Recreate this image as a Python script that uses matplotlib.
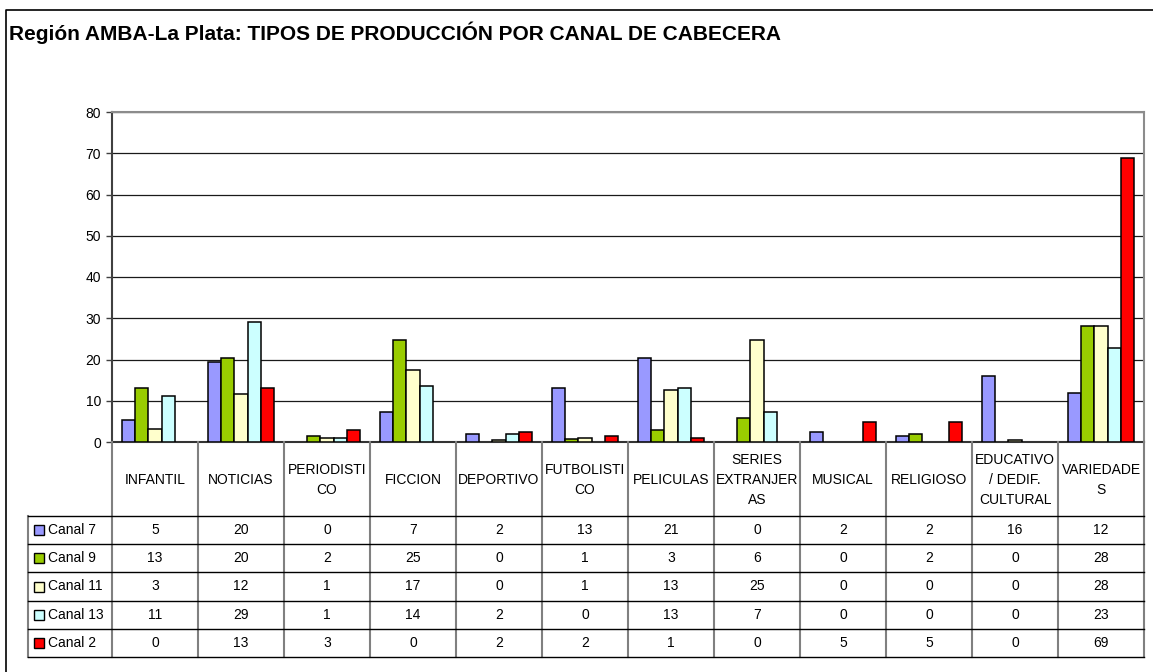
import matplotlib
matplotlib.use("Agg")
import matplotlib.pyplot as plt
import numpy as np

plt.rcParams['font.family'] = ['Liberation Sans', 'DejaVu Sans']

W, H = 1153, 672

# Data
categories = ["INFANTIL", "NOTICIAS", "PERIODISTI\nCO", "FICCION", "DEPORTIVO",
              "FUTBOLISTI\nCO", "PELICULAS", "SERIES\nEXTRANJER\nAS", "MUSICAL",
              "RELIGIOSO", "EDUCATIVO\n/ DEDIF.\nCULTURAL", "VARIEDADE\nS"]
channels = ["Canal 7", "Canal 9", "Canal 11", "Canal 13", "Canal 2"]
colors = ["#9999FF", "#99CC00", "#FFFFCC", "#CCFFFF", "#FF0000"]

# bar heights as drawn
canal7 = [5.3, 19.3, 0, 7.2, 1.9, 13.0, 20.3, 0, 2.4, 1.4, 15.9, 12.0]
canal9 = [13.0, 20.3, 1.4, 24.7, 0, 0.8, 2.8, 5.7, 0, 1.9, 0, 28.1]
canal11 = [3.2, 11.6, 0.9, 17.4, 0.4, 1.0, 12.5, 24.8, 0, 0, 0.4, 28.1]
canal13 = [11.1, 29.1, 0.9, 13.5, 1.9, 0, 13.1, 7.2, 0, 0, 0, 22.7]
canal2 = [0, 13.0, 2.8, 0, 2.4, 1.5, 1.0, 0, 4.8, 4.8, 0, 68.9]

# values printed in the data table
tab7 = [5, 20, 0, 7, 2, 13, 21, 0, 2, 2, 16, 12]
tab9 = [13, 20, 2, 25, 0, 1, 3, 6, 0, 2, 0, 28]
tab11 = [3, 12, 1, 17, 0, 1, 13, 25, 0, 0, 0, 28]
tab13 = [11, 29, 1, 14, 2, 0, 13, 7, 0, 0, 0, 23]
tab2 = [0, 13, 3, 0, 2, 2, 1, 0, 5, 5, 0, 69]

series = [canal7, canal9, canal11, canal13, canal2]
table = [tab7, tab9, tab11, tab13, tab2]

fig = plt.figure(figsize=(W / 100, H / 100), dpi=100)

# plot area in pixels
px_left, px_right, px_top, px_bottom = 112, 1144, 112, 442
ax = fig.add_axes([px_left / W, 1 - px_bottom / H,
                   (px_right - px_left) / W, (px_bottom - px_top) / H])

n = len(categories)
x = np.arange(n) + 0.5
bw = 0.154
for j, (vals, col, name) in enumerate(zip(series, colors, channels)):
    bars = ax.bar(x + (j - 2) * bw, vals, width=bw, color=col,
                  edgecolor="black", linewidth=1.1, zorder=3, label=name)
    # empty bars are not drawn
    for b, v in zip(bars, vals):
        if v == 0:
            b.set_visible(False)

ax.set_xlim(0, n)
ax.set_ylim(0, 80)
ax.set_yticks(range(0, 81, 10))
ax.yaxis.grid(True, color="#1a1a1a", linewidth=0.9, zorder=0)
ax.set_xticks([])
ax.tick_params(axis="y", length=4, width=1, color="#404040",
               labelsize=10, pad=4)
ax.spines["top"].set_color("#8c8c8c")
ax.spines["top"].set_linewidth(1.5)
ax.spines["right"].set_color("#8c8c8c")
ax.spines["right"].set_linewidth(1.5)
ax.spines["left"].set_color("#404040")
ax.spines["left"].set_linewidth(1.5)
ax.spines["bottom"].set_color("#333333")
ax.spines["bottom"].set_linewidth(1.5)

# overlay in pixel coordinates for frame, title and data table
ov = fig.add_axes([0, 0, 1, 1], zorder=5)
ov.set_xlim(0, W)
ov.set_ylim(H, 0)
ov.axis("off")
ov.patch.set_alpha(0)

# outer chart frame
ov.plot([6, 6, W], [H, 10, 10], color="black", linewidth=1.2)

ov.text(9, 33, "Región AMBA-La Plata: TIPOS DE PRODUCCIÓN POR CANAL DE CABECERA",
        fontsize=15, fontweight="bold", ha="left", va="center")

cw = (px_right - px_left) / n
head_bottom = 516
row_h = (657 - head_bottom) / len(channels)
tab_left = 28

# vertical lines (gray)
for i in range(n + 1):
    xv = px_left + i * cw
    ov.plot([xv, xv], [px_bottom, 657], color="#808080", linewidth=1.5)
ov.plot([tab_left, tab_left], [head_bottom, 657], color="#808080", linewidth=1.5)

# horizontal lines (black)
for r in range(len(channels) + 1):
    yh = head_bottom + r * row_h
    ov.plot([tab_left, px_right], [yh, yh], color="black", linewidth=1.0)

# header labels
for i, cat in enumerate(categories):
    ov.text(px_left + (i + 0.5) * cw, (px_bottom + head_bottom) / 2 + 1, cat,
            fontsize=10, ha="center", va="center", linespacing=1.55)

# rows
for r, (name, col, vals) in enumerate(zip(channels, colors, table)):
    yc = head_bottom + (r + 0.5) * row_h
    ov.add_patch(plt.Rectangle((34, yc - 5), 10, 10, facecolor=col,
                               edgecolor="black", linewidth=1.0))
    ov.text(48, yc, name, fontsize=10, ha="left", va="center")
    for i, v in enumerate(vals):
        ov.text(px_left + (i + 0.5) * cw, yc, str(v), fontsize=10,
                ha="center", va="center")

fig.savefig("out.png", dpi=100)
